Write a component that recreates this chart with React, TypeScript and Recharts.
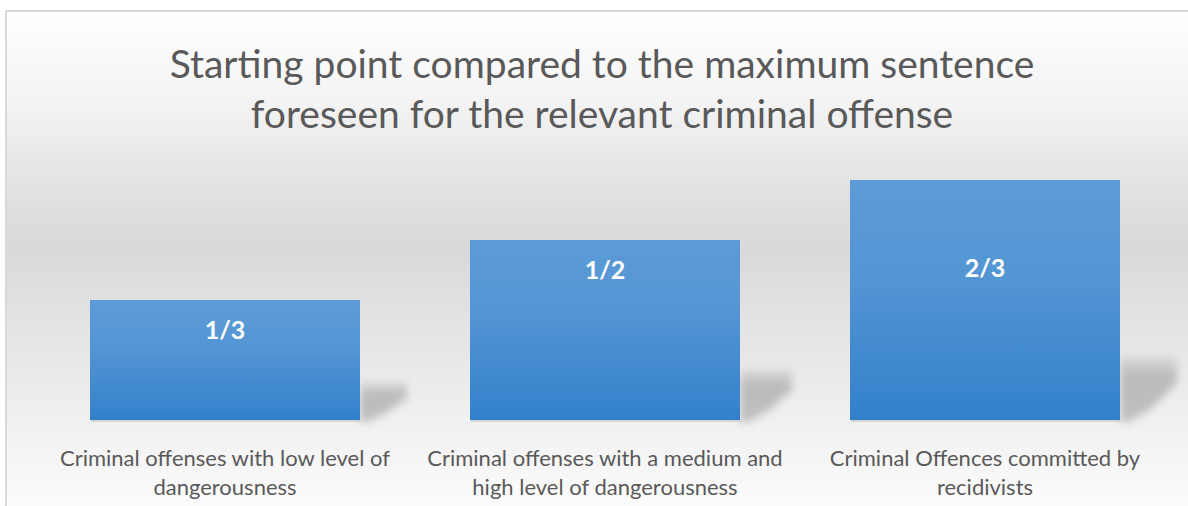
import React from "react";
import { BarChart, Bar, XAxis, YAxis, LabelList } from "recharts";

const titleLines = [
  "Starting point compared to the maximum sentence",
  "foreseen for the relevant criminal offense",
];
const categories = [
  "Criminal offenses with low level of\ndangerousness",
  "Criminal offenses with a medium and\nhigh level of dangerousness",
  "Criminal Offences committed by\nrecidivists",
];
const values = [1 / 3, 1 / 2, 2 / 3];
const valueLabels = ["1/3", "1/2", "2/3"];

const data = categories.map((c, i) => ({
  category: c,
  value: values[i],
  label: valueLabels[i],
}));

const FONT = "Lato, 'Open Sans', sans-serif";

const CategoryTick = (props: any) => {
  const { x, y, payload } = props;
  const lines = String(payload.value).split("\n");
  return (
    <text x={x} y={y} textAnchor="middle" fill="#595959" fontSize={22} fontFamily={FONT}>
      {lines.map((l, i) => (
        <tspan key={i} x={x} y={y + 38 + i * 29}>
          {l}
        </tspan>
      ))}
    </text>
  );
};

const BarShape = (props: any) => {
  const { x, y, width, height, index } = props;
  const r = x + width;
  const b = y + height;
  const sh = 12 + height * 0.21;
  const sw = 37 + height * 0.083;
  const gid = `barGrad${index}`;
  const sgid = `shadowGrad${index}`;
  const fid = `shadowBlur${index}`;
  const pts = [
    [r, b - sh],
    [r + sw, b - sh],
    [r + sw, b - sh * 0.6],
    [r + sw * 0.55, b - sh * 0.18],
    [r + sw * 0.15, b + 2],
    [r, b + 2],
  ]
    .map((p) => p.join(","))
    .join(" ");
  return (
    <g>
      <defs>
        <linearGradient id={gid} x1="0" y1="0" x2="0" y2="1">
          <stop offset="0%" stopColor="#5b9bd6" />
          <stop offset="40%" stopColor="#5495d4" />
          <stop offset="100%" stopColor="#3280cb" />
        </linearGradient>
        <linearGradient id={sgid} x1="0" y1="0" x2="0" y2="1">
          <stop offset="0%" stopColor="#a0a0a0" stopOpacity={0.25} />
          <stop offset="30%" stopColor="#a0a0a0" stopOpacity={0.65} />
          <stop offset="100%" stopColor="#a0a0a0" stopOpacity={0.6} />
        </linearGradient>
        <filter id={fid} x="-50%" y="-50%" width="200%" height="200%">
          <feGaussianBlur stdDeviation="4" />
        </filter>
      </defs>
      <polygon points={pts} fill={`url(#${sgid})`} filter={`url(#${fid})`} />
      <rect x={x + 1} y={b} width={width} height={2} fill="#c8c8c8" opacity={0.7} />
      <rect x={x} y={y} width={width} height={height} fill={`url(#${gid})`} />
    </g>
  );
};

const ValueLabel = (props: any) => {
  const { x, y, width, value } = props;
  const baseline = Math.max(y + 39, 277);
  return (
    <text
      x={x + width / 2}
      y={baseline}
      textAnchor="middle"
      fill="#ffffff"
      fontSize={25}
      fontWeight={700}
      fontFamily={FONT}
    >
      {value}
    </text>
  );
};

export default function App() {
  return (
    <div
      style={{
        position: "absolute",
        left: 0,
        top: 0,
        width: 1188,
        height: 506,
        overflow: "hidden",
        background: "#ffffff",
      }}
    >
      <div
        style={{
          position: "absolute",
          left: 5,
          top: 10,
          width: 1200,
          height: 520,
          border: "2px solid #d9d9d9",
          boxSizing: "border-box",
          background:
            "linear-gradient(to bottom, #ffffff 0%, #f3f3f3 18%, #e2e2e2 34%, #d9d9d9 46%, #eeeeee 76%, #ffffff 100%)",
        }}
      />
      <div
        style={{
          position: "absolute",
          left: 0,
          top: 0,
          width: 1204,
          textAlign: "center",
          fontFamily: FONT,
          color: "#595959",
          fontSize: 39,
        }}
      >
        {titleLines.map((t, i) => (
          <div
            key={i}
            style={{ position: "absolute", left: 0, width: 1204, top: 38 + i * 50, lineHeight: "50px", whiteSpace: "nowrap" }}
          >
            {t}
          </div>
        ))}
      </div>
      <div style={{ position: "absolute", left: 0, top: 0 }}>
        <BarChart
          width={1188}
          height={506}
          data={data}
          margin={{ top: 150, right: 13, bottom: 0, left: 35 }}
          barCategoryGap={55}
        >
          <XAxis
            dataKey="category"
            axisLine={false}
            tickLine={false}
            interval={0}
            height={86}
            tick={<CategoryTick />}
          />
          <YAxis hide domain={[0, 0.75]} />
          <Bar dataKey="value" isAnimationActive={false} shape={<BarShape />}>
            <LabelList dataKey="label" content={<ValueLabel />} />
          </Bar>
        </BarChart>
      </div>
    </div>
  );
}
